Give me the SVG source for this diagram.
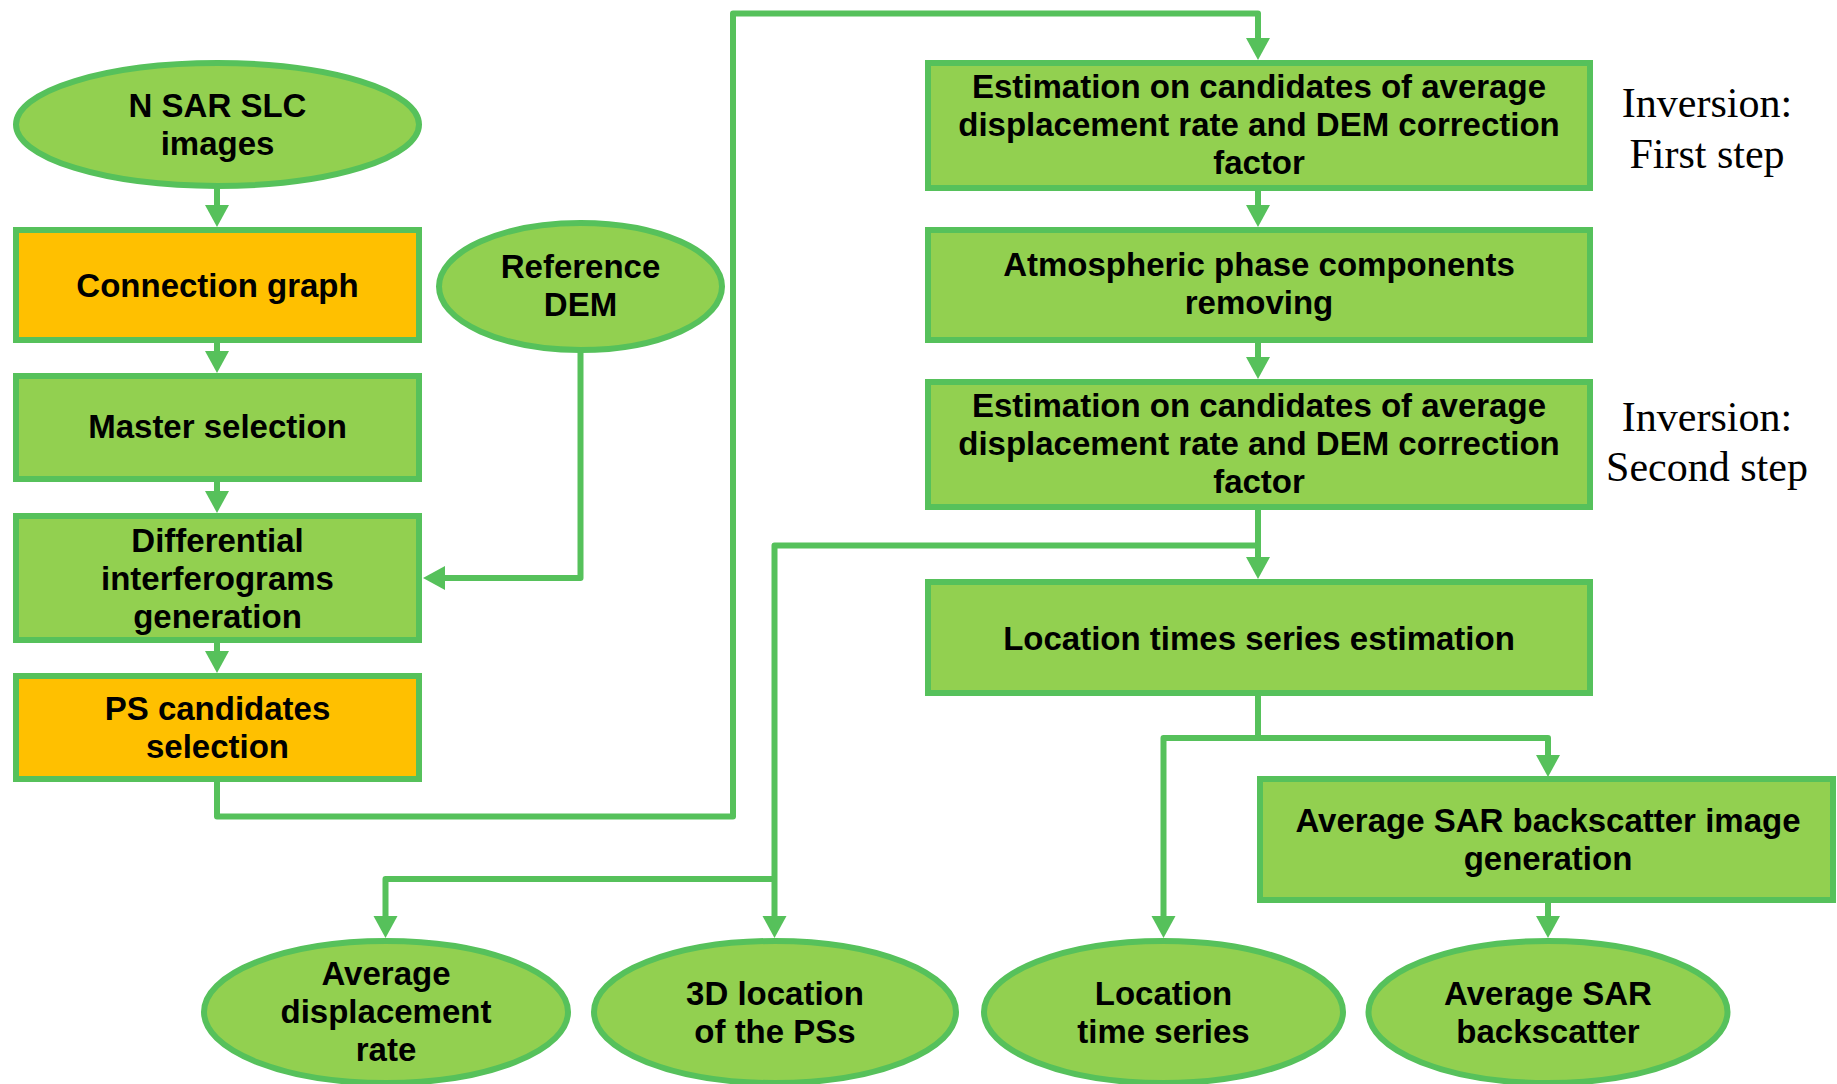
<svg xmlns="http://www.w3.org/2000/svg" width="1837" height="1084" viewBox="0 0 1837 1084">
<style>
.box{fill:#92D050;stroke:#56C15B;stroke-width:6}
.orange{fill:#FFC000}
.ell{fill:#92D050;stroke:#56C15B;stroke-width:6}
.t{font-family:"Liberation Sans",Arial,sans-serif;font-weight:bold;font-size:33px;fill:#000;text-anchor:middle}
.s{font-family:"Liberation Serif","Times New Roman",serif;font-size:42px;fill:#000;text-anchor:middle}
.c{fill:none;stroke:#56C15B;stroke-width:6;stroke-linejoin:round;marker-end:url(#ah)}
</style>
<defs>
<marker id="ah" markerUnits="userSpaceOnUse" markerWidth="24" markerHeight="24" refX="0" refY="12" orient="auto" overflow="visible">
<path d="M0,0 L22,12 L0,24 Z" fill="#56C15B"/>
</marker>
</defs>
<rect width="1837" height="1084" fill="#fff"/>
<g id="connectors">
<path class="c" d="M217,186 V205"/>
<path class="c" d="M217,335 V351"/>
<path class="c" d="M217,472 V491"/>
<path class="c" d="M217,637 V651"/>
<path class="c" d="M580.5,350 V578 H445"/>
<path class="c" d="M217,779 V816.5 H733 V13.5 H1258 V38"/>
<path class="c" d="M1258,188 V205"/>
<path class="c" d="M1258,340 V357"/>
<path class="c" d="M1258,507 V557"/>
<path class="c" d="M1258,545.5 H774.5 V916"/>
<path class="c" d="M774.5,879 H385.5 V916"/>
<path class="c" d="M1258,693 V738 H1163.5 V916"/>
<path class="c" d="M1258,738 H1548 V755"/>
<path class="c" d="M1548,893 V916"/>
</g>
<g id="n_slc">
<ellipse class="ell" cx="217.5" cy="124.5" rx="201.5" ry="61.5"/>
<text class="t" x="217.5" y="117">N SAR SLC</text>
<text class="t" x="217.5" y="155">images</text>
</g>
<g id="n_conn">
<rect class="box orange" x="16" y="230" width="403" height="110"/>
<text class="t" x="217.5" y="297">Connection graph</text>
</g>
<g id="n_master">
<rect class="box" x="16" y="376" width="403" height="103"/>
<text class="t" x="217.5" y="438">Master selection</text>
</g>
<g id="n_diff">
<rect class="box" x="16" y="516" width="403" height="124"/>
<text class="t" x="217.5" y="552">Differential</text>
<text class="t" x="217.5" y="590">interferograms</text>
<text class="t" x="217.5" y="628">generation</text>
</g>
<g id="n_ps">
<rect class="box orange" x="16" y="676" width="403" height="103"/>
<text class="t" x="217.5" y="720">PS candidates</text>
<text class="t" x="217.5" y="758">selection</text>
</g>
<g id="n_dem">
<ellipse class="ell" cx="580.5" cy="286.5" rx="141.5" ry="63.5"/>
<text class="t" x="580.5" y="278">Reference</text>
<text class="t" x="580.5" y="316">DEM</text>
</g>
<g id="n_est1">
<rect class="box" x="928" y="63" width="662" height="125"/>
<text class="t" x="1259" y="98">Estimation on candidates of average</text>
<text class="t" x="1259" y="136">displacement rate and DEM correction</text>
<text class="t" x="1259" y="174">factor</text>
</g>
<g id="n_atm">
<rect class="box" x="928" y="230" width="662" height="110"/>
<text class="t" x="1259" y="276">Atmospheric phase components</text>
<text class="t" x="1259" y="314">removing</text>
</g>
<g id="n_est2">
<rect class="box" x="928" y="382" width="662" height="125"/>
<text class="t" x="1259" y="417">Estimation on candidates of average</text>
<text class="t" x="1259" y="455">displacement rate and DEM correction</text>
<text class="t" x="1259" y="493">factor</text>
</g>
<g id="n_loc">
<rect class="box" x="928" y="582" width="662" height="111"/>
<text class="t" x="1259" y="650">Location times series estimation</text>
</g>
<g id="n_avgimg">
<rect class="box" x="1260" y="779" width="573" height="121"/>
<text class="t" x="1548" y="832">Average SAR backscatter image</text>
<text class="t" x="1548" y="870">generation</text>
</g>
<g id="n_rate">
<ellipse class="ell" cx="386" cy="1012" rx="182" ry="71"/>
<text class="t" x="386" y="985">Average</text>
<text class="t" x="386" y="1023">displacement</text>
<text class="t" x="386" y="1061">rate</text>
</g>
<g id="n_3d">
<ellipse class="ell" cx="775" cy="1012" rx="181" ry="71"/>
<text class="t" x="775" y="1005">3D location</text>
<text class="t" x="775" y="1043">of the PSs</text>
</g>
<g id="n_lts">
<ellipse class="ell" cx="1163.5" cy="1012" rx="179.5" ry="71"/>
<text class="t" x="1163.5" y="1005">Location</text>
<text class="t" x="1163.5" y="1043">time series</text>
</g>
<g id="n_sar">
<ellipse class="ell" cx="1548" cy="1012" rx="179.5" ry="71"/>
<text class="t" x="1548" y="1005">Average SAR</text>
<text class="t" x="1548" y="1043">backscatter</text>
</g>
<g id="labels">
<text class="s" x="1707" y="117">Inversion:</text>
<text class="s" x="1707" y="168">First step</text>
<text class="s" x="1707" y="431">Inversion:</text>
<text class="s" x="1707" y="481">Second step</text>
</g>
</svg>
